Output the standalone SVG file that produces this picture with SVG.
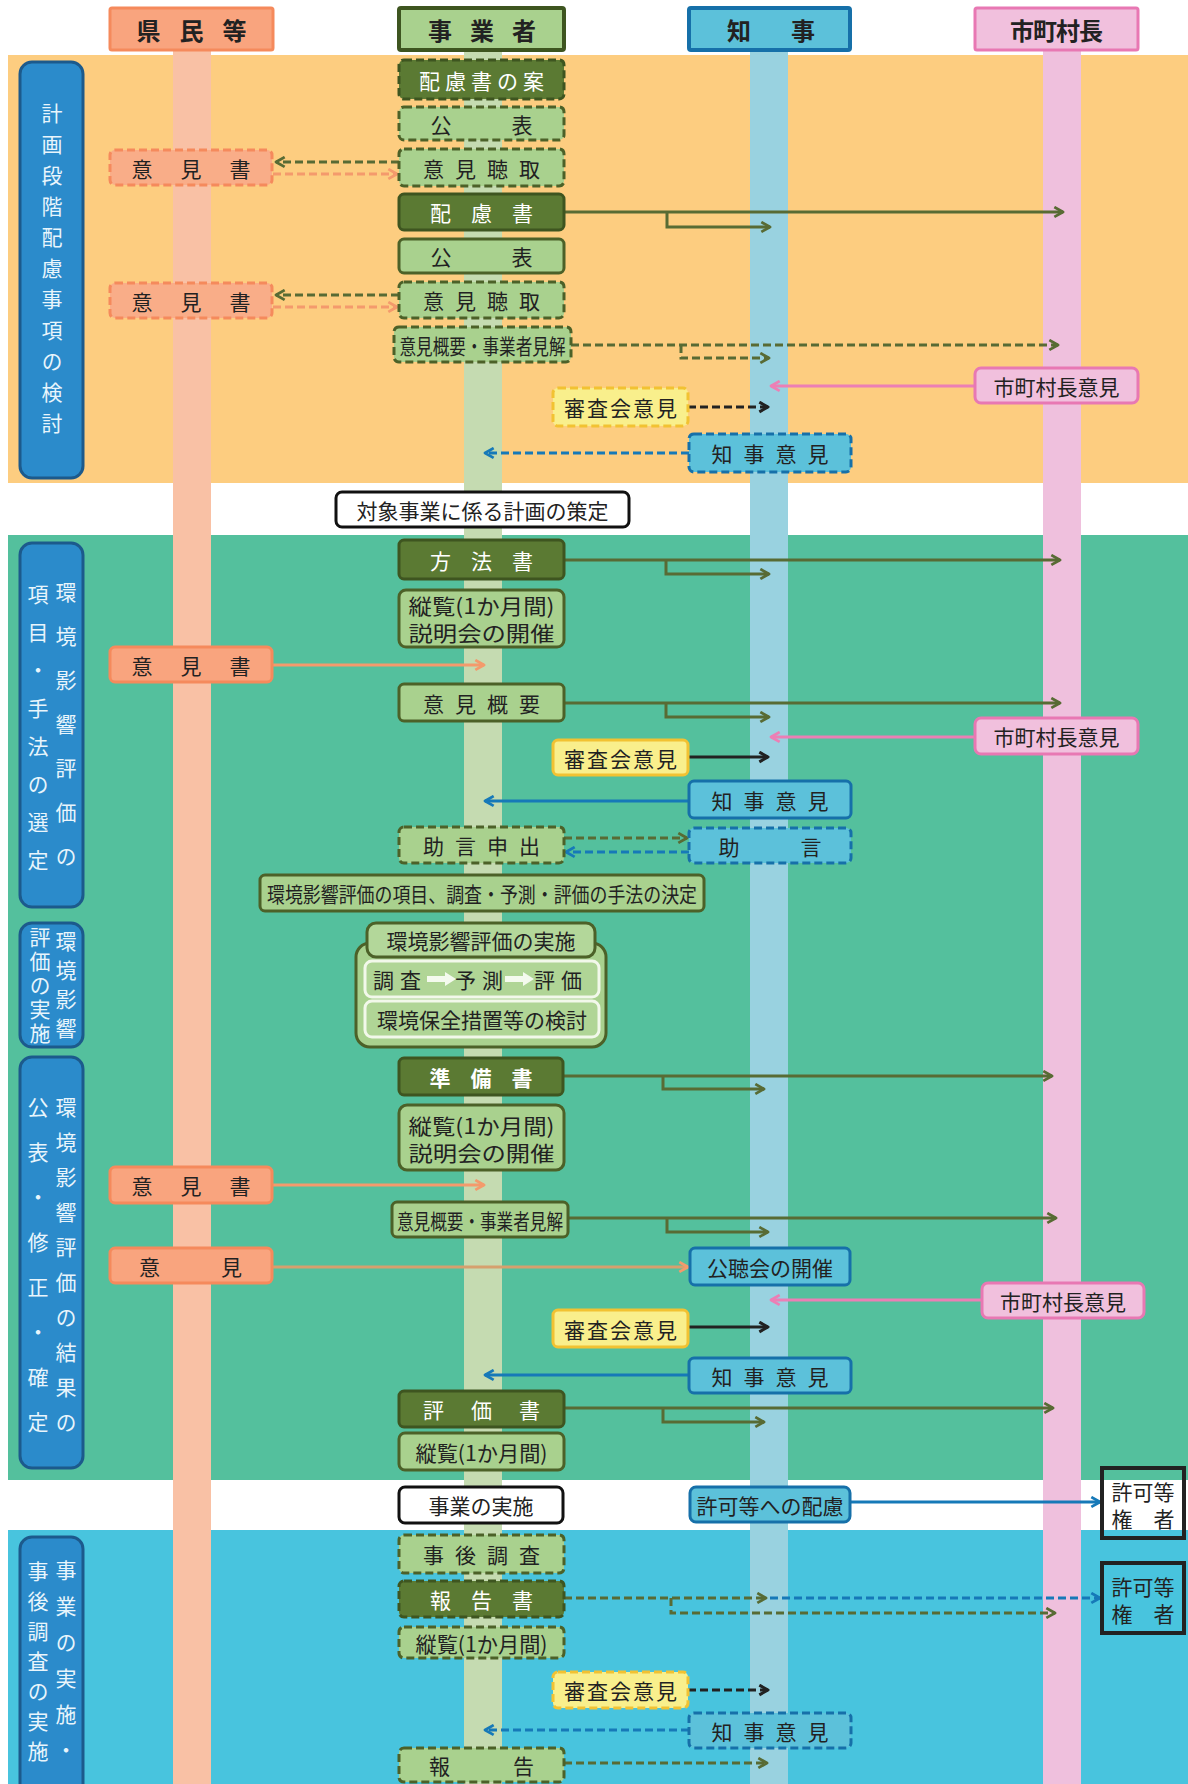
<svg xmlns="http://www.w3.org/2000/svg" width="1188" height="1784" viewBox="0 0 1188 1784">
<style>
.t{font-family:"Noto Sans CJK JP","Noto Sans CJK SC",sans-serif;font-size:21px;fill:#222;text-anchor:middle;dominant-baseline:central}
.tw{fill:#fff}
.hd{font-size:24px;font-weight:700}
.sx{fill:#e8f5fc;font-size:21px}
.n-dark{fill:#5b7a33;stroke:#3e5520;stroke-width:3}
.n-light{fill:#a9d18e;stroke:#4c6128;stroke-width:3}
.n-sal{fill:#f9a47e;stroke:#f58a5c;stroke-width:3}
.n-sald{fill:#f9ad88;stroke:#f58a5c;stroke-width:3}
.n-yel{fill:#f9ef8c;stroke:#f2c232;stroke-width:3}
.n-blue{fill:#5cc1da;stroke:#1670a9;stroke-width:3}
.n-pink{fill:#f1c0dd;stroke:#e878b3;stroke-width:3}
.n-white{fill:#fff;stroke:#111;stroke-width:3}
.n-box{fill:none;stroke:#222;stroke-width:4}
.dash{stroke-dasharray:8 4}
.sec{fill:#2b8bcb;stroke:#1c5a8c;stroke-width:3}
.c{fill:none;stroke-width:3}
.co{stroke:#586b34}
.cs{stroke:#f49a6c}
.ct{stroke:#d6a06e}
.cp{stroke:#ec7fb5}
.ck{stroke:#222}
.cb{stroke:#1679b8}
</style>
<defs>
<marker id="mo" viewBox="0 0 12 12" refX="10" refY="6" markerWidth="13" markerHeight="13" markerUnits="userSpaceOnUse" orient="auto"><path d="M2,1.5 L10,6 L2,10.5" fill="none" stroke="#586b34" stroke-width="2.6" stroke-linejoin="round"/></marker>
<marker id="ms" viewBox="0 0 12 12" refX="10" refY="6" markerWidth="13" markerHeight="13" markerUnits="userSpaceOnUse" orient="auto"><path d="M2,1.5 L10,6 L2,10.5" fill="none" stroke="#f49a6c" stroke-width="2.6" stroke-linejoin="round"/></marker>
<marker id="mp" viewBox="0 0 12 12" refX="10" refY="6" markerWidth="13" markerHeight="13" markerUnits="userSpaceOnUse" orient="auto"><path d="M2,1.5 L10,6 L2,10.5" fill="none" stroke="#ec7fb5" stroke-width="2.6" stroke-linejoin="round"/></marker>
<marker id="mk" viewBox="0 0 12 12" refX="10" refY="6" markerWidth="13" markerHeight="13" markerUnits="userSpaceOnUse" orient="auto"><path d="M2,1.5 L10,6 L2,10.5" fill="none" stroke="#222" stroke-width="2.8" stroke-linejoin="round"/></marker>
<marker id="mb" viewBox="0 0 12 12" refX="10" refY="6" markerWidth="13" markerHeight="13" markerUnits="userSpaceOnUse" orient="auto"><path d="M2,1.5 L10,6 L2,10.5" fill="none" stroke="#1679b8" stroke-width="2.6" stroke-linejoin="round"/></marker>
</defs>

<g id="backgrounds">
<rect x="0" y="0" width="1188" height="1784" fill="#fff"/>
<rect x="8" y="55" width="1180" height="428" fill="#fdcd80"/>
<rect x="8" y="535" width="1180" height="945" fill="#54c09d"/>
<rect x="8" y="1530" width="1180" height="254" fill="#48c4de"/>
</g>

<g id="lanes">
<rect x="173" y="50" width="38" height="1734" fill="#f9c1a5"/>
<rect x="464" y="50" width="38" height="1734" fill="#c5dbb1"/>
<rect x="750" y="50" width="38" height="1734" fill="#99d2e0"/>
<rect x="1043" y="50" width="38" height="1734" fill="#efc0dd"/>
</g>

<g id="headers">
<g id="h-kenmin"><rect x="110" y="8" width="163" height="42" rx="2" class="n-sal"/><text class="t hd" x="201" y="29" letter-spacing="19">県民等</text></g>
<g id="h-jigyosha"><rect x="399" y="8" width="165" height="42" rx="2" fill="#a9d18e" stroke="#3e5520" stroke-width="4"/><text class="t hd" x="491" y="29" letter-spacing="18">事業者</text></g>
<g id="h-chiji"><rect x="689" y="8" width="161" height="42" rx="2" fill="#5cc1da" stroke="#1670a9" stroke-width="4"/><text class="t hd" x="791" y="29" letter-spacing="40">知事</text></g>
<g id="h-shichoson"><rect x="975" y="8" width="163" height="42" rx="2" class="n-pink"/><text class="t hd" x="1056" y="29" letter-spacing="-1">市町村長</text></g>
</g>

<g id="section-labels">
<g id="s1"><rect class="sec" x="20" y="62" width="63" height="416" rx="12"/><text class="t sx" x="52" y="273" writing-mode="vertical-rl" letter-spacing="10" font-size="22">計画段階配慮事項の検討</text></g>
<g id="s2"><rect class="sec" x="20" y="543" width="63" height="364" rx="12"/><text class="t sx" x="66" y="736" writing-mode="vertical-rl" letter-spacing="23">環境影響評価の</text><text class="t sx" x="38" y="736" writing-mode="vertical-rl" letter-spacing="17">項目・手法の選定</text></g>
<g id="s3"><rect class="sec" x="20" y="923" width="63" height="124" rx="12"/><text class="t sx" x="66" y="989" writing-mode="vertical-rl" letter-spacing="8" font-size="20">環境影響</text><text class="t sx" x="40" y="987" writing-mode="vertical-rl" letter-spacing="3" font-size="19">評価の実施</text></g>
<g id="s4"><rect class="sec" x="20" y="1057" width="63" height="411" rx="12"/><text class="t sx" x="66" y="1272" writing-mode="vertical-rl" letter-spacing="14">環境影響評価の結果の</text><text class="t sx" x="38" y="1277" writing-mode="vertical-rl" letter-spacing="24">公表・修正・確定</text></g>
<g id="s5"><rect class="sec" x="20" y="1537" width="63" height="260" rx="12"/><text class="t sx" x="66" y="1668" writing-mode="vertical-rl" letter-spacing="15">事業の実施・</text><text class="t sx" x="38" y="1666" writing-mode="vertical-rl" letter-spacing="9">事後調査の実施</text></g>
</g>

<g id="connectors">
<path class="c co dash" d="M399,162 H276" marker-end="url(#mo)"/>
<path class="c cs dash" d="M273,174 H397" marker-end="url(#ms)"/>
<path class="c co dash" d="M399,295 H276" marker-end="url(#mo)"/>
<path class="c cs dash" d="M273,307 H397" marker-end="url(#ms)"/>
<path class="c co" d="M564,212 H1063" marker-end="url(#mo)"/>
<path class="c co" d="M667,212 V227 H770" marker-end="url(#mo)"/>
<path class="c co dash" d="M571,345 H1058" marker-end="url(#mo)"/>
<path class="c co dash" d="M681,345 V358 H769" marker-end="url(#mo)"/>
<path class="c cp" d="M975,386 H771" marker-end="url(#mp)"/>
<path class="c ck dash" d="M688,407 H768" marker-end="url(#mk)"/>
<path class="c cb dash" d="M689,453 H485" marker-end="url(#mb)"/>

<path class="c co" d="M564,560 H1060" marker-end="url(#mo)"/>
<path class="c co" d="M666,560 V574 H769" marker-end="url(#mo)"/>
<path class="c cs" d="M272,665 H484" marker-end="url(#ms)"/>
<path class="c co" d="M564,703 H1060" marker-end="url(#mo)"/>
<path class="c co" d="M666,703 V717 H769" marker-end="url(#mo)"/>
<path class="c cp" d="M975,737 H771" marker-end="url(#mp)"/>
<path class="c ck" d="M688,757 H768" marker-end="url(#mk)"/>
<path class="c cb" d="M689,801 H485" marker-end="url(#mb)"/>
<path class="c co dash" d="M564,838 H687" marker-end="url(#mo)"/>
<path class="c cb dash" d="M689,852 H566" marker-end="url(#mb)"/>

<path class="c co" d="M563,1076 H1052" marker-end="url(#mo)"/>
<path class="c co" d="M663,1076 V1089 H764" marker-end="url(#mo)"/>
<path class="c cs" d="M272,1185 H484" marker-end="url(#ms)"/>
<path class="c co" d="M568,1218 H1056" marker-end="url(#mo)"/>
<path class="c co" d="M667,1218 V1232 H768" marker-end="url(#mo)"/>
<path class="c ct" d="M272,1267 H688" marker-end="url(#ms)"/>
<path class="c cp" d="M982,1300 H771" marker-end="url(#mp)"/>
<path class="c ck" d="M688,1327 H768" marker-end="url(#mk)"/>
<path class="c cb" d="M689,1375 H485" marker-end="url(#mb)"/>
<path class="c co" d="M564,1408 H1053" marker-end="url(#mo)"/>
<path class="c co" d="M663,1408 V1422 H764" marker-end="url(#mo)"/>

<path class="c cb" d="M850,1502 H1100" marker-end="url(#mb)"/>

<path class="c co dash" d="M564,1598 H766" marker-end="url(#mo)"/>
<path class="c cb dash" d="M770,1598 H1100" marker-end="url(#mb)"/>
<path class="c co dash" d="M671,1598 V1613 H1055" marker-end="url(#mo)"/>
<path class="c ck dash" d="M688,1690 H768" marker-end="url(#mk)"/>
<path class="c cb dash" d="M689,1730 H485" marker-end="url(#mb)"/>
<path class="c co dash" d="M564,1763 H767" marker-end="url(#mo)"/>
</g>

<g id="n-hairyo-an"><rect class="n-dark dash" x="399" y="60" width="165" height="39" rx="5"/><text class="t tw" x="484" y="80" letter-spacing="5" font-size="22">配慮書の案</text></g>
<g id="n-kohyo1"><rect class="n-light dash" x="399" y="107" width="165" height="33" rx="5"/><text class="t" x="484.5" y="124" letter-spacing="6">公　　表</text></g>
<g id="n-choshu1"><rect class="n-light dash" x="399" y="149" width="165" height="37" rx="5"/><text class="t" x="487" y="168" letter-spacing="11">意見聴取</text></g>
<g id="n-ikensho1"><rect class="n-sald dash" x="110" y="150" width="162" height="35" rx="5"/><text class="t" x="205" y="168" letter-spacing="28">意見書</text></g>
<g id="n-hairyosho"><rect class="n-dark" x="399" y="194" width="165" height="36" rx="5"/><text class="t tw" x="491.5" y="212" letter-spacing="20">配慮書</text></g>
<g id="n-kohyo2"><rect class="n-light" x="399" y="239" width="165" height="34" rx="5"/><text class="t" x="484.5" y="256" letter-spacing="6">公　　表</text></g>
<g id="n-choshu2"><rect class="n-light dash" x="399" y="282" width="165" height="36" rx="5"/><text class="t" x="487" y="300" letter-spacing="11">意見聴取</text></g>
<g id="n-ikensho2"><rect class="n-sald dash" x="110" y="283" width="162" height="35" rx="5"/><text class="t" x="205" y="301" letter-spacing="28">意見書</text></g>
<g id="n-gaiyo1"><rect class="n-light dash" x="394" y="327" width="177" height="35" rx="5"/><text class="t" x="482.5" y="345" font-size="20" textLength="166" lengthAdjust="spacingAndGlyphs">意見概要・事業者見解</text></g>
<g id="n-shichoson1"><rect class="n-pink" x="975" y="368" width="163" height="35" rx="6"/><text class="t" x="1056.5" y="386">市町村長意見</text></g>
<g id="n-shinsa1"><rect class="n-yel dash" x="553" y="388" width="135" height="38" rx="5"/><text class="t" x="621.5" y="407" letter-spacing="2">審査会意見</text></g>
<g id="n-chiji1"><rect class="n-blue dash" x="689" y="434" width="162" height="38" rx="5"/><text class="t" x="775.5" y="453" letter-spacing="11">知事意見</text></g>

<g id="n-keikaku"><rect class="n-white" x="336" y="492" width="293" height="35" rx="6"/><text class="t" x="482.5" y="510">対象事業に係る計画の策定</text></g>

<g id="n-hohosho"><rect class="n-dark" x="399" y="540" width="165" height="39" rx="5"/><text class="t tw" x="491.5" y="560" letter-spacing="20">方法書</text></g>
<g id="n-juran1"><rect class="n-light" x="399" y="590" width="165" height="57" rx="7"/><text class="t" x="481.5" y="605" font-size="18" textLength="146" lengthAdjust="spacingAndGlyphs">縦覧(1か月間)</text><text class="t" x="481.5" y="632" font-size="18" textLength="146" lengthAdjust="spacingAndGlyphs">説明会の開催</text></g>
<g id="n-ikensho3"><rect class="n-sal" x="110" y="647" width="162" height="35" rx="5"/><text class="t" x="205" y="665" letter-spacing="28">意見書</text></g>
<g id="n-gaiyo2"><rect class="n-light" x="399" y="684" width="165" height="37" rx="5"/><text class="t" x="487" y="703" letter-spacing="11">意見概要</text></g>
<g id="n-shichoson2"><rect class="n-pink" x="975" y="718" width="163" height="36" rx="6"/><text class="t" x="1056.5" y="736">市町村長意見</text></g>
<g id="n-shinsa2"><rect class="n-yel" x="553" y="740" width="135" height="35" rx="5"/><text class="t" x="621.5" y="758" letter-spacing="2">審査会意見</text></g>
<g id="n-chiji2"><rect class="n-blue" x="689" y="781" width="162" height="37" rx="5"/><text class="t" x="775.5" y="800" letter-spacing="11">知事意見</text></g>
<g id="n-jogen-moushide"><rect class="n-light dash" x="399" y="827" width="165" height="36" rx="5"/><text class="t" x="487" y="845" letter-spacing="11">助言申出</text></g>
<g id="n-jogen"><rect class="n-blue dash" x="689" y="828" width="162" height="35" rx="5"/><text class="t" x="800.5" y="846" letter-spacing="61">助言</text></g>
<g id="n-kettei"><rect class="n-light" x="260" y="875" width="444" height="36" rx="5"/><text class="t" x="482" y="893" font-size="20" textLength="430" lengthAdjust="spacingAndGlyphs">環境影響評価の項目、調査・予測・評価の手法の決定</text></g>

<g id="n-jisshi">
<rect x="356" y="943" width="250" height="104" rx="14" fill="#a9d18e" stroke="#4c6128" stroke-width="3"/>
<rect x="367" y="923" width="228" height="34" rx="9" fill="#b3d79a" stroke="#4c6128" stroke-width="3"/>
<text class="t" x="481" y="940">環境影響評価の実施</text>
<rect x="365" y="961" width="234" height="36" rx="7" fill="#b0d596" stroke="#f2f8ea" stroke-width="3"/>
<text class="t" x="400" y="979" letter-spacing="6">調査</text>
<polygon points="427,976 445,976 445,972 456,979 445,986 445,982 427,982" fill="#f4faee"/>
<text class="t" x="482" y="979" letter-spacing="6">予測</text>
<polygon points="505,976 523,976 523,972 534,979 523,986 523,982 505,982" fill="#f4faee"/>
<text class="t" x="561" y="979" letter-spacing="6">評価</text>
<rect x="365" y="1001" width="234" height="36" rx="7" fill="#b0d596" stroke="#f2f8ea" stroke-width="3"/>
<text class="t" x="482" y="1019">環境保全措置等の検討</text>
</g>

<g id="n-junbisho"><rect class="n-dark" x="399" y="1058" width="164" height="37" rx="5"/><text class="t tw" x="491" y="1077" letter-spacing="20" font-weight="700">準備書</text></g>
<g id="n-juran2"><rect class="n-light" x="399" y="1105" width="165" height="65" rx="8"/><text class="t" x="481.5" y="1125" font-size="20" textLength="146" lengthAdjust="spacingAndGlyphs">縦覧(1か月間)</text><text class="t" x="481.5" y="1152" font-size="20" textLength="146" lengthAdjust="spacingAndGlyphs">説明会の開催</text></g>
<g id="n-ikensho4"><rect class="n-sal" x="110" y="1167" width="162" height="36" rx="5"/><text class="t" x="205" y="1185" letter-spacing="28">意見書</text></g>
<g id="n-gaiyo3"><rect class="n-light" x="392" y="1202" width="176" height="35" rx="5"/><text class="t" x="480" y="1220" font-size="20" textLength="166" lengthAdjust="spacingAndGlyphs">意見概要・事業者見解</text></g>
<g id="n-iken"><rect class="n-sal" x="110" y="1248" width="162" height="35" rx="5"/><text class="t" x="221" y="1266" letter-spacing="61">意見</text></g>
<g id="n-kochokai"><rect class="n-blue" x="690" y="1248" width="160" height="37" rx="5"/><text class="t" x="770" y="1267">公聴会の開催</text></g>
<g id="n-shichoson3"><rect class="n-pink" x="982" y="1283" width="162" height="35" rx="6"/><text class="t" x="1063" y="1301">市町村長意見</text></g>
<g id="n-shinsa3"><rect class="n-yel" x="553" y="1310" width="135" height="37" rx="5"/><text class="t" x="621.5" y="1329" letter-spacing="2">審査会意見</text></g>
<g id="n-chiji3"><rect class="n-blue" x="689" y="1358" width="162" height="35" rx="5"/><text class="t" x="775.5" y="1376" letter-spacing="11">知事意見</text></g>
<g id="n-hyokasho"><rect class="n-dark" x="399" y="1391" width="165" height="36" rx="5"/><text class="t tw" x="495" y="1409" letter-spacing="27">評価書</text></g>
<g id="n-juran3"><rect class="n-light" x="399" y="1433" width="165" height="37" rx="6"/><text class="t" x="481.5" y="1452" textLength="132" lengthAdjust="spacingAndGlyphs">縦覧(1か月間)</text></g>

<g id="n-jigyo-jisshi"><rect class="n-white" x="399" y="1487" width="164" height="36" rx="6"/><text class="t" x="481" y="1505" font-size="22">事業の実施</text></g>
<g id="n-kyoka-hairyo"><rect class="n-blue" x="690" y="1487" width="160" height="35" rx="6"/><text class="t" x="770" y="1505">許可等への配慮</text></g>
<g id="n-kenja1"><rect class="n-box" x="1102" y="1468" width="82" height="70"/><text class="t" x="1143" y="1491" font-size="20">許可等</text><text class="t" x="1143" y="1518" font-size="20">権　者</text></g>

<g id="n-jigo-chosa"><rect class="n-light dash" x="399" y="1535" width="165" height="38" rx="5"/><text class="t" x="487" y="1554" letter-spacing="11">事後調査</text></g>
<g id="n-hokokusho"><rect class="n-dark dash" x="399" y="1581" width="165" height="36" rx="5"/><text class="t tw" x="491.5" y="1599" letter-spacing="20">報告書</text></g>
<g id="n-kenja2"><rect class="n-box" x="1102" y="1563" width="82" height="70"/><text class="t" x="1143" y="1586" font-size="20">許可等</text><text class="t" x="1143" y="1613" font-size="20">権　者</text></g>
<g id="n-juran4"><rect class="n-light dash" x="399" y="1627" width="165" height="31" rx="5"/><text class="t" x="481.5" y="1643" textLength="132" lengthAdjust="spacingAndGlyphs">縦覧(1か月間)</text></g>
<g id="n-shinsa4"><rect class="n-yel dash" x="553" y="1672" width="135" height="36" rx="5"/><text class="t" x="621.5" y="1690" letter-spacing="2">審査会意見</text></g>
<g id="n-chiji4"><rect class="n-blue dash" x="689" y="1713" width="162" height="35" rx="5"/><text class="t" x="775.5" y="1731" letter-spacing="11">知事意見</text></g>
<g id="n-hokoku"><rect class="n-light dash" x="399" y="1748" width="165" height="34" rx="5"/><text class="t" x="513" y="1765" letter-spacing="63">報告</text></g>
</svg>
